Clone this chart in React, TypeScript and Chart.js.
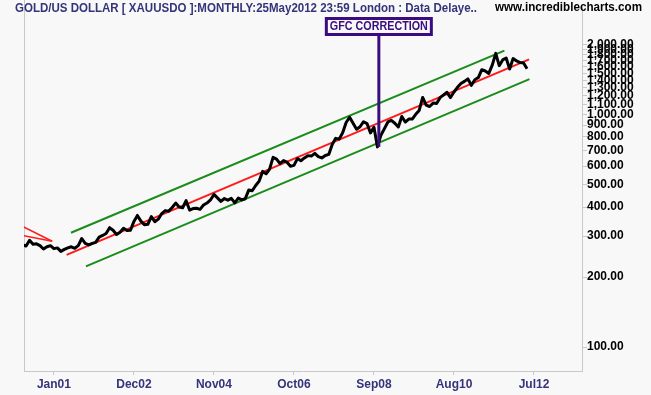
import { useEffect, useRef } from "react";
import { Chart, registerables } from "chart.js";

Chart.register(...registerables);

// Months counted from Jan 2000 (0 = Jan 2000). First close = Apr 2000.
const START_MONTH = 3;
const goldClose = [
  275, 272, 288, 277, 278, 273, 264, 270, 273,
  265, 267, 258, 263, 267, 270, 266, 273, 293, 279, 275, 279,
  282, 297, 302, 308, 326, 318, 305, 312, 324, 317, 318, 347,
  368, 348, 336, 337, 364, 346, 355, 375, 386, 384, 398, 416,
  400, 397, 426, 388, 394, 395, 391, 408, 416, 429, 453, 438,
  423, 435, 428, 436, 417, 437, 429, 434, 473, 470, 495, 517,
  569, 556, 582, 654, 643, 614, 633, 623, 599, 604, 646, 632,
  650, 665, 662, 680, 659, 650, 666, 673, 743, 789, 783, 834,
  923, 972, 916, 864, 885, 930, 913, 833, 880, 725, 814, 869,
  928, 942, 916, 883, 980, 927, 955, 955, 1001, 1040, 1182, 1096,
  1081, 1118, 1113, 1180, 1213, 1244, 1181, 1248, 1307, 1357, 1386, 1421,
  1333, 1409, 1439, 1556, 1536, 1500, 1628, 1828, 1620, 1714, 1746, 1566,
  1737, 1697, 1669, 1664, 1572,
];

const tickMonths = [12, 35, 58, 81, 104, 127, 150];
const tickLabels = ["Jan01", "Dec02", "Nov04", "Oct06", "Sep08", "Aug10", "Jul12"];
const yTickValues = [
  100, 200, 300, 400, 500, 600, 700, 800, 900, 1000,
  1100, 1200, 1300, 1400, 1500, 1600, 1700, 1800, 1900, 2000,
];

const midTrendMonths = [15.65, 148.6];
const midTrendValues = [249, 1722];
const upperMonths = [16.9, 141.5];
const upperValues = [310, 1878];
const lowerMonths = [21.2, 148.7];
const lowerValues = [222.4, 1418];
const tailMonths = [3, 11.5];
const tailUpperValues = [330, 285];
const tailLowerValues = [302, 285];

const TITLE = "GOLD/US DOLLAR [ XAUUSDO ]:MONTHLY:25May2012 23:59 London : Data Delaye..";
const SITE = "www.incrediblecharts.com";
const ANNOTATION_TEXT = "GFC CORRECTION";
const annotationMonth = 105.4;
const annotationValue = 725;

const BG = "#F8F8F8";
const FRAME = "#C8C8C8";
const NAVY = "#34347A";
const PURPLE = "#3A0C80";

function pts(xs: number[], ys: number[]) {
  return xs.map((x, i) => ({ x, y: ys[i] }));
}

function fitText(
  ctx: CanvasRenderingContext2D,
  text: string,
  x: number,
  y: number,
  width: number,
  font: string,
  color: string
) {
  ctx.save();
  ctx.font = font;
  ctx.fillStyle = color;
  ctx.textBaseline = "middle";
  ctx.textAlign = "left";
  const w = ctx.measureText(text).width;
  ctx.translate(x, y);
  ctx.scale(width / w, 1);
  ctx.fillText(text, 0, 0);
  ctx.restore();
}

const decorPlugin = {
  id: "decor",
  beforeDraw(chart: any) {
    const ctx = chart.ctx as CanvasRenderingContext2D;
    ctx.save();
    ctx.fillStyle = BG;
    ctx.fillRect(0, 0, chart.width, chart.height);
    const a = chart.chartArea;
    ctx.strokeStyle = FRAME;
    ctx.lineWidth = 1;
    ctx.beginPath();
    ctx.moveTo(Math.round(a.left) + 0.5, 0);
    ctx.lineTo(Math.round(a.left) + 0.5, a.bottom);
    ctx.stroke();
    ctx.restore();
  },
  afterDraw(chart: any) {
    const ctx = chart.ctx as CanvasRenderingContext2D;
    const xs = chart.scales.x;
    const ys = chart.scales.y;
    fitText(ctx, TITLE, 15, 8.5, 462, "bold 12px 'Liberation Sans', Arial, sans-serif", NAVY);
    fitText(ctx, SITE, 495, 7.5, 147, "bold 12px 'Liberation Sans', Arial, sans-serif", "#000000");
    const px = xs.getPixelForValue(annotationMonth);
    const py = ys.getPixelForValue(annotationValue);
    const boxW = 108;
    const boxTop = 17;
    const boxH = 19;
    ctx.save();
    ctx.strokeStyle = PURPLE;
    ctx.lineWidth = 3;
    ctx.beginPath();
    ctx.moveTo(px, boxTop + boxH);
    ctx.lineTo(px, py);
    ctx.stroke();
    ctx.fillStyle = BG;
    ctx.fillRect(px - boxW / 2, boxTop, boxW, boxH);
    ctx.strokeRect(px - boxW / 2 + 1.5, boxTop + 1.5, boxW - 3, boxH - 3);
    ctx.restore();
    fitText(
      ctx,
      ANNOTATION_TEXT,
      px - 49,
      boxTop + boxH / 2 + 0.5,
      98,
      "bold 12px 'Liberation Sans', Arial, sans-serif",
      PURPLE
    );
  },
};

export default function App() {
  const ref = useRef<HTMLCanvasElement | null>(null);
  useEffect(() => {
    if (!ref.current) return;
    const lineBase = { pointRadius: 0, tension: 0, fill: false };
    const chart = new Chart(ref.current, {
      type: "line",
      data: {
        datasets: [
          {
            ...lineBase,
            data: goldClose.map((v, i) => ({ x: START_MONTH + i, y: v })),
            borderColor: "#000000",
            borderWidth: 3,
            borderJoinStyle: "round",
            order: 0,
          },
          { ...lineBase, data: pts(midTrendMonths, midTrendValues), borderColor: "#FF1A1A", borderWidth: 2, order: 1 },
          { ...lineBase, data: pts(upperMonths, upperValues), borderColor: "#1A8C1A", borderWidth: 2, order: 1 },
          { ...lineBase, data: pts(lowerMonths, lowerValues), borderColor: "#1A8C1A", borderWidth: 2, order: 1 },
          { ...lineBase, data: pts(tailMonths, tailUpperValues), borderColor: "#FF1A1A", borderWidth: 1.5, order: 1 },
          { ...lineBase, data: pts(tailMonths, tailLowerValues), borderColor: "#FF1A1A", borderWidth: 1.5, order: 1 },
        ] as any,
      },
      options: {
        animation: false,
        responsive: false,
        layout: { padding: { left: 24, top: 0, right: 0, bottom: 0 } },
        plugins: { legend: { display: false }, tooltip: { enabled: false }, title: { display: false } },
        scales: {
          x: {
            type: "linear",
            min: 3.4,
            max: 163.8,
            afterFit: (s: any) => {
              s.height = 24;
            },
            afterBuildTicks: (s: any) => {
              s.ticks = tickMonths.map((v) => ({ value: v }));
            },
            grid: { display: true, drawOnChartArea: false, drawTicks: true, tickLength: 4, color: FRAME },
            border: { display: true, color: FRAME, width: 1 },
            ticks: {
              autoSkip: false,
              maxRotation: 0,
              padding: 2,
              color: NAVY,
              font: { family: "'Liberation Sans', Arial, sans-serif", size: 12, weight: "bold" },
              callback: (value: any) => {
                const i = tickMonths.indexOf(Number(value));
                return i >= 0 ? tickLabels[i] : "";
              },
            },
          },
          y: {
            type: "logarithmic",
            position: "right",
            min: 79,
            max: 2887,
            afterFit: (s: any) => {
              s.width = 69;
            },
            afterBuildTicks: (s: any) => {
              s.ticks = yTickValues.map((v) => ({ value: v }));
            },
            grid: { display: true, drawOnChartArea: false, drawTicks: true, tickLength: 5, color: FRAME },
            border: { display: true, color: FRAME, width: 1 },
            ticks: {
              autoSkip: false,
              padding: 0,
              color: "#000000",
              font: { family: "'Liberation Sans', Arial, sans-serif", size: 12, weight: "bold" },
              callback: (value: any) =>
                Number(value).toLocaleString("en-US", { minimumFractionDigits: 2, maximumFractionDigits: 2 }),
            },
          },
        },
      } as any,
      plugins: [decorPlugin],
    });
    return () => chart.destroy();
  }, []);
  return (
    <canvas
      ref={ref}
      width={651}
      height={395}
      style={{ position: "fixed", left: 0, top: 0, display: "block", width: 651, height: 395 }}
    />
  );
}
